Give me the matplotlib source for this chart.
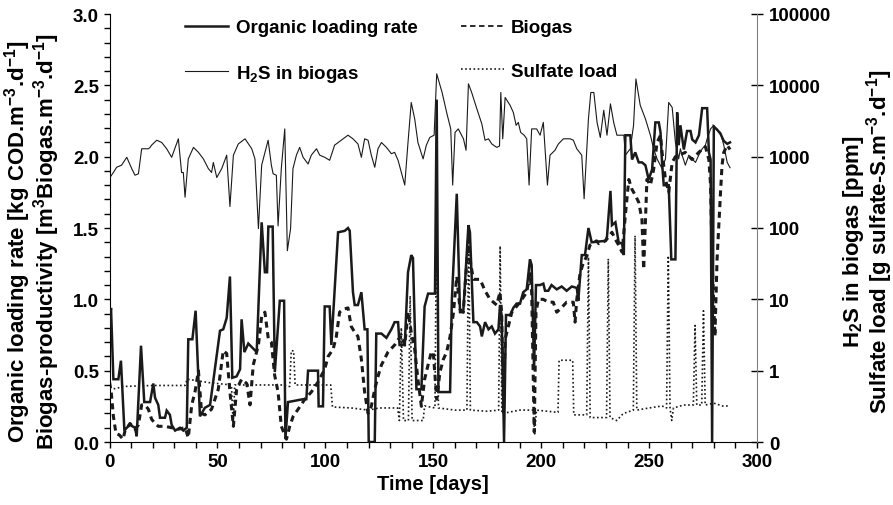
import matplotlib
matplotlib.use("Agg")
import matplotlib.pyplot as plt
from matplotlib.ticker import MultipleLocator, FixedLocator, FixedFormatter
from matplotlib.lines import Line2D

plt.rcParams['font.family'] = ['Liberation Sans', 'DejaVu Sans']
plt.rcParams['font.weight'] = 'bold'
plt.rcParams['mathtext.fontset'] = 'custom'
plt.rcParams['mathtext.rm'] = 'Liberation Sans:bold'
plt.rcParams['mathtext.it'] = 'Liberation Sans:bold'
plt.rcParams['mathtext.bf'] = 'Liberation Sans:bold'
plt.rcParams['mathtext.default'] = 'rm'

# ---------------- data ----------------
olr_days = [0, 0.7, 1.8, 4.1, 5.3, 6.9, 8, 9.5, 11.8, 12.6, 14.6, 16.1, 18.8, 20.3, 21.1, 22.6,
            23.4, 25.7, 26.5, 28.0, 28.8, 30.4, 32.7, 34.2, 35.8, 36.5, 38.4, 39.9, 41.9, 44.2,
            46.6, 51.2, 52.7, 54.3, 55.8, 56.9, 58.9, 60.5, 61.2, 62.5, 64.3, 68.2, 70.5, 72.0,
            73.0, 73.6, 75.6, 76.6, 78.9, 80.9, 81.5, 82.7, 89.7, 91.2, 92.0, 96.6, 96.9, 98.9,
            99.7, 102.0, 102.8, 105.9, 109.0, 110.5, 111.3, 112.8, 113.6, 115.1, 116.7, 118.2,
            119.5, 120.1, 122.9, 123.6, 126.0, 128.3, 130.6, 132.1, 133.7, 134.4, 136.8, 138.3,
            139.8, 140.6, 142.2, 144.5, 146.0, 147.6, 149.1, 150.8, 151.6, 152.4, 157.8, 158.6,
            160.9, 162.4, 163.9, 166.3, 167.0, 168.6, 170.2, 171.7, 172.5, 174.0, 175.6, 177.1,
            178.6, 180.2, 180.9, 181.7, 182.8, 183.7, 185.6, 187.1, 188.6, 190.2, 191.7, 193.3,
            194.8, 195.6, 196.7, 197.6, 199.5, 201.0, 201.8, 203.3, 204.8, 207.2, 209.5, 211.8,
            214.2, 216.5, 217.2, 218.8, 220.3, 221.9, 223.4, 229.8, 230.5, 232.1, 232.8, 234.4,
            235.9, 237.5, 238.3, 239.0, 241.3, 242.1, 243.6, 245.2, 246.7, 248.3, 249.8, 251.4,
            252.9, 254.5, 255.3, 256.0, 256.8, 259.1, 260.3, 262.2, 263.0, 263.7, 264.5, 266.1,
            267.6, 269.2, 270.0, 271.5, 273.1, 274.6, 276.9, 277.7, 278.5, 279.2, 280.0, 281.5,
            283.1, 284.6, 286.2, 287.5]
olr_vals = [0.80, 0.94, 0.44, 0.44, 0.57, 0.08, 0.10, 0.12, 0.10, 0.04, 0.675, 0.28, 0.28, 0.41, 0.31, 0.26,
            0.17, 0.17, 0.22, 0.19, 0.12, 0.08, 0.10, 0.08, 0.10, 0.72, 0.72, 0.92, 0.18, 0.24,
            0.26, 0.78, 0.79, 0.87, 1.16, 0.45, 0.46, 0.51, 0.86, 0.63, 0.69, 0.63, 1.54, 1.19,
            1.19, 1.51, 1.51, 0.49, 0.99, 0.99, 0.02, 0.28, 0.30, 0.30, 0.50, 0.50, 0.25, 0.25,
            0.95, 0.95, 0.68, 1.47, 1.48, 1.50, 1.48, 1.05, 0.96, 0.96, 1.05, 0.79,
            0.79, 0.0, 0.0, 0.76, 0.76, 0.73, 0.79, 0.84, 0.84, 0.68, 0.68, 1.19,
            1.31, 1.29, 0.37, 0.37, 0.95, 1.04, 1.04, 1.04, 2.40, 0.35, 0.35, 0.99,
            1.74, 0.91, 0.91, 1.52, 1.47, 0.84, 0.84, 0.81, 0.74, 0.84, 0.79, 0.81,
            0.76, 0.79, 0.95, 0.89, 0.0, 0.89, 0.89, 0.94, 0.97, 0.97, 1.05, 1.07,
            1.28, 1.24, 0.51, 1.10, 1.10, 1.11, 1.06, 1.06, 1.10, 1.07, 1.09, 1.06,
            1.09, 1.08, 0.99, 1.31, 1.31, 1.50, 1.40, 1.41, 1.44, 1.76, 1.52, 1.54,
            1.40, 1.39, 1.31, 2.15, 2.15, 1.98, 2.03, 1.96, 1.96, 1.94, 1.84, 1.91,
            2.24, 2.24, 2.17, 1.96, 1.80, 1.80, 1.28, 1.28, 2.31, 2.08, 2.22, 2.05,
            2.18, 2.18, 2.12, 2.10, 2.15, 2.34, 2.34, 2.03, 1.98, 0.0, 2.21, 2.19,
            2.16, 2.11, 2.09, 2.10]

biogas_days = [0, 0.8, 1.8, 3.0, 4.5, 6.3, 7.2, 9.5, 11.8, 13.4, 14.9, 16.4, 18.0, 19.5, 21.1, 22.6,
               25.7, 28.8, 31.9, 35.0, 36.5, 38.1, 39.6, 41.2, 42.7, 44.2, 47.3, 50.4, 52.7, 54.3,
               55.8, 57.4, 58.9, 61.2, 63.6, 65.1, 66.6, 69.0, 70.5, 72.0, 73.6, 75.0, 76.5, 78.1,
               79.6, 82.0, 83.5, 85.1, 87.4, 90.5, 93.5, 96.6, 99.7, 101.3, 103.6, 105.1, 106.6,
               108.2, 110.5, 112.0, 113.6, 115.1, 116.7, 118.2, 119.8, 121.3, 122.9, 124.4, 126.0,
               129.0, 132.1, 135.2, 136.8, 138.3, 139.8, 141.4, 142.9, 144.5, 146.0, 147.6, 149.1,
               150.0, 151.6, 153.1, 154.7, 156.2, 157.8, 159.3, 160.9, 162.4, 163.9, 166.3, 167.0,
               168.6, 171.7, 174.0, 176.3, 179.4, 180.9, 181.7, 182.5, 183.3, 184.8, 186.4, 190.2,
               193.3, 194.8, 195.6, 196.4, 196.8, 197.6, 198.7, 201.0, 203.3, 205.6, 207.2, 208.7,
               211.8, 214.9, 215.7, 216.5, 218.0, 219.6, 221.1, 222.6, 225.7, 226.7, 229.8, 232.8,
               234.4, 235.9, 237.5, 239.0, 240.6, 242.1, 243.6, 245.2, 246.7, 247.5, 249.0, 250.6,
               252.1, 253.7, 255.3, 256.0, 257.6, 259.1, 260.7, 262.2, 266.8, 269.9, 273.0, 276.1,
               277.7, 278.5, 279.2, 280.5, 281.5, 283.1, 283.8, 284.6, 286.2, 287.5]
biogas_vals = [0.42, 0.35, 0.18, 0.06, 0.05, 0.02, 0.08, 0.13, 0.09, 0.12, 0.26, 0.26, 0.23, 0.16, 0.13, 0.11,
               0.11, 0.10, 0.09, 0.10, 0.03, 0.26, 0.35, 0.50, 0.20, 0.19, 0.23, 0.37, 0.64, 0.62,
               0.35, 0.11, 0.37, 0.44, 0.41, 0.26, 0.54, 0.68, 0.88, 0.91, 0.72, 0.70, 0.47, 0.35,
               0.11, 0.02, 0.11, 0.18, 0.23, 0.30, 0.35, 0.42, 0.51, 0.60, 0.65, 0.74, 0.91,
               0.93, 0.94, 0.81, 0.77, 0.74, 0.58, 0.35, 0.20, 0.25, 0.37, 0.46, 0.54,
               0.63, 0.68, 0.75, 0.68, 0.91, 0.77, 0.65, 0.44, 0.25, 0.44, 0.54, 0.63,
               0.63, 0.30, 0.49, 0.58, 0.63, 0.74, 0.90, 1.16, 0.93, 0.91, 1.42, 1.28,
               1.14, 1.14, 1.06, 1.00, 0.96, 1.05, 0.91, 0.21, 0.72, 0.81, 0.91, 0.98,
               1.05, 1.18, 1.05, 0.40, 0.07, 0.91, 1.00, 1.00, 0.98, 0.98, 0.91, 0.93,
               0.98, 0.98, 0.84, 1.00, 1.18, 1.26, 1.30, 1.38, 1.41, 1.39, 1.41, 1.47,
               1.42, 1.38, 1.33, 1.59, 1.84, 1.77, 1.73, 1.68, 1.56, 1.21, 1.84, 1.80,
               1.91, 2.10, 2.15, 2.03, 1.84, 1.75, 1.96, 2.00, 2.03, 1.98, 2.03, 2.07,
               1.98, 1.80, 1.28, 0.74, 1.28, 1.75, 1.94, 2.03, 2.08, 2.05]

h2s_days = [0.2, 1.8, 3.3, 5.6, 8.0, 10.3, 11.8, 13.4, 14.9, 18.0, 18.8, 19.5, 21.9, 24.2, 26.5, 28.8,
            31.9, 33.4, 34.2, 35.0, 36.5, 38.9, 41.2, 43.5, 45.8, 47.3, 48.1, 49.7, 52.0, 54.3,
            55.8, 57.4, 59.7, 62.8, 65.9, 67.4, 69.0, 70.5, 73.5, 75.0, 75.8, 77.3, 78.1, 79.6,
            81.2, 82.4, 83.9, 85.0, 86.6, 88.1, 89.7, 92.0, 93.5, 95.9, 97.4, 99.7, 102.0, 104.3,
            107.4, 110.5, 112.8, 115.1, 116.7, 118.2, 119.8, 121.3, 122.9, 124.4, 126.0, 128.3,
            130.6, 132.1, 133.7, 136.8, 138.3, 139.8, 141.4, 142.9, 145.3, 146.8, 148.4, 150.4,
            151.6, 154.1, 156.2, 158.1, 159.0, 160.1, 161.6, 164.0, 165.2, 166.3, 167.8, 170.2,
            172.5, 174.0, 175.6, 177.1, 179.4, 180.7, 181.3, 182.2, 183.3, 185.6, 187.1, 188.4,
            189.4, 190.5, 192.1, 193.3, 194.4, 195.6, 197.9, 199.5, 201.0, 202.9, 204.1, 206.4,
            208.0, 210.3, 213.4, 214.9, 216.5, 218.8, 219.9, 221.9, 223.0, 224.4, 225.9, 227.4,
            229.0, 230.5, 232.1, 233.6, 235.1, 238.3, 239.0, 241.3, 242.8, 243.9, 245.9, 248.3,
            250.6, 252.1, 253.7, 256.0, 257.6, 259.1, 260.7, 262.2, 263.7, 264.5, 265.3, 266.8,
            268.4, 269.9, 271.5, 273.0, 274.6, 276.1, 276.9, 278.5, 280.0, 281.5, 283.1, 284.6,
            286.2, 287.5]
h2s_ppm = [510, 600, 710, 760, 980, 680, 550, 575, 1290, 1290, 1350, 1450, 1700, 1580, 1290, 980,
           1780, 600, 600, 270, 930, 1350, 1150, 930, 680, 600, 830, 510, 680, 1050,
           200, 1050, 1510, 1780, 1290, 930, 98, 760, 1700, 760, 575, 550, 107, 680,
           2450, 48, 98, 680, 1050, 1350, 980, 790, 1050, 1290, 1050, 980, 890, 1450,
           1700, 2000, 1780, 1510, 980, 1780, 1700, 1050, 710, 1290, 1580, 1350,
           1100, 1150, 890, 400, 1580, 5750, 3390, 1580, 930, 1450, 1860, 2000,
           14500, 7940, 4170, 2450, 400, 2190, 2450, 1780, 1230, 10500, 7940, 4680,
           2880, 1700, 1780, 1510, 1350, 1410, 7940, 1780, 6760, 5250, 4170, 2750,
           3020, 2190, 2000, 1780, 400, 2450, 2450, 2000, 3020, 400, 1050, 1230,
           1510, 1780, 1780, 1700, 1290, 1050, 257, 3390, 7940, 7940, 3020, 1860,
           4470, 2000, 5500, 3020, 2000, 2000, 1050, 1290, 2750, 12300, 5250, 3390,
           2000, 1290, 930, 680, 930, 5750, 4900, 1580, 930, 1290, 1050, 760,
           1050, 930, 830, 1050, 1290, 1450, 1780, 2450, 2750, 2340, 2190, 1450,
           830, 700]

sulfate_days = [0, 3, 6, 20, 35, 36, 41, 46, 56.5, 57.3, 58, 70, 80, 83.5, 84.2, 85.3, 86, 95,
                102.5, 103.3, 112, 120, 125, 133.5, 134.3, 135.2, 136.2, 138.5, 139.3, 140.2,
                145.3, 146, 150.8, 151.6, 152.4, 160, 165.6, 166.4, 167.2, 175, 180.3, 181,
                181.8, 190, 196.3, 197, 197.8, 207.8, 208.3, 214.6, 215.1, 221.1, 221.9, 222.7,
                230.3, 231.1, 231.9, 235, 238, 242.7, 243.5, 244.3, 250, 256, 258.1, 258.9,
                259.7, 260.5, 261.3, 266, 270.5, 271.3, 272.1, 274.4, 275.2, 276, 280, 284, 287.5]
sulfate_vals = [0.56, 0.56, 0.60, 0.62, 0.62, 0.76, 0.72, 0.68, 0.63, 0.17, 0.63, 0.63, 0.63, 0.60, 1.9, 1.9, 0.63, 0.63,
                0.63, 0.31, 0.30, 0.28, 0.30, 0.30, 0.20, 4.0, 0.20, 0.20, 11.2, 0.20,
                0.20, 0.32, 0.30, 316, 0.30, 0.28, 0.28, 100, 0.28, 0.27, 0.28, 56,
                0.25, 0.28, 0.28, 0.13, 0.28, 0.26, 1.4, 1.4, 0.24, 0.24, 39, 0.22,
                0.22, 37, 0.22, 0.20, 0.25, 0.28, 78, 0.28, 0.30, 0.32, 0.30, 41,
                0.30, 0.20, 0.30, 0.33, 0.33, 4.3, 0.33, 0.33, 6.9, 0.33, 0.35, 0.32, 0.32]

x_ticks = [0, 50, 100, 150, 200, 250, 300]
left_ticks = [0.0, 0.5, 1.0, 1.5, 2.0, 2.5, 3.0]
right_ticks = [0.1, 1, 10, 100, 1000, 10000, 100000]
right_labels = ['0', '1', '10', '100', '1000', '10000', '100000']

FS = 13.5     # ticks / legend
FS_Y = 16     # y labels
FS_X = 14.5   # x label

fig = plt.figure(figsize=(8.93, 5.06), dpi=100)
ax = fig.add_axes([109.5/893, 1-443/506, (757-109.5)/893, 428/506])
ax2 = ax.twinx()

ax.plot(olr_days, olr_vals, color='#1a1a1a', lw=1.8, solid_joinstyle='miter', zorder=3)
ax.plot(biogas_days, biogas_vals, color='#1a1a1a', lw=2.2, linestyle=(0, (2, 1.5)), zorder=2)
ax2.plot(h2s_days, h2s_ppm, color='#1a1a1a', lw=0.8, zorder=2)
ax2.plot(sulfate_days, sulfate_vals, color='#1a1a1a', lw=1.2, linestyle=(0, (1, 1.5)), zorder=1)

ax.set_xlim(0, 300)
ax.set_ylim(0, 3.0)
ax2.set_yscale('log')
ax2.set_ylim(0.1, 100000)

ax.xaxis.set_major_locator(FixedLocator(x_ticks))
ax.xaxis.set_minor_locator(MultipleLocator(10))
ax.yaxis.set_major_locator(FixedLocator(left_ticks))
ax.yaxis.set_minor_locator(MultipleLocator(0.1))
ax.set_yticklabels([f"{v:.1f}" for v in left_ticks])
ax.tick_params(axis='both', which='both', direction='out', length=4, width=1, labelsize=FS)
ax.tick_params(axis='x', pad=4)

ax2.yaxis.set_major_locator(FixedLocator(right_ticks))
ax2.yaxis.set_major_formatter(FixedFormatter(right_labels))
ax2.yaxis.set_minor_locator(FixedLocator([]))
ax2.tick_params(axis='y', which='major', direction='inout', length=9, width=1, labelsize=FS, pad=4)

for a in (ax, ax2):
    a.spines['top'].set_visible(False)
ax.spines['right'].set_visible(False)
ax2.spines['left'].set_visible(False)
ax2.spines['bottom'].set_visible(False)
ax2.spines['right'].set_color('#808080')

for lab in ax.get_xticklabels() + ax.get_yticklabels() + ax2.get_yticklabels():
    lab.set_fontweight('bold')

ax.set_xlabel('Time [days]', fontsize=FS_X, fontweight='bold', labelpad=3)
ax.set_ylabel('Organic loading rate [kg COD.m$^{-3}$.d$^{-1}$]\nBiogas-productivity [m$^{3}$Biogas.m$^{-3}$.d$^{-1}$]',
              fontsize=FS_Y, fontweight='bold', linespacing=0.9)
ax.yaxis.set_label_coords((62 - 109.5) / 647.5, 0.47)
ax2.set_ylabel('H$_{2}$S in biogas [ppm]\nSulfate load [g sulfate-S.m$^{-3}$.d$^{-1}$]',
               fontsize=FS_Y, fontweight='bold', linespacing=0.9, rotation=90)
ax2.yaxis.set_label_coords((841 - 109.5) / 647.5, 0.47)

handles = [Line2D([], [], color='#1a1a1a', lw=1.8),
           Line2D([], [], color='#1a1a1a', lw=0.8),
           Line2D([], [], color='#1a1a1a', lw=1.3, linestyle=(0, (3, 2))),
           Line2D([], [], color='#1a1a1a', lw=1.2, linestyle=(0, (1, 1.5)))]
labels = ['Organic loading rate', 'H$_{2}$S in biogas', 'Biogas', 'Sulfate load']
leg = fig.legend(handles, labels, loc='upper left', bbox_to_anchor=(185/893, 1-20/506),
                 ncol=2, frameon=False, handlelength=2.3, handletextpad=0.4,
                 columnspacing=2.3, labelspacing=1.42, borderpad=0, borderaxespad=0,
                 prop={'weight': 'bold', 'size': FS})

fig.savefig('out.png', dpi=100)
